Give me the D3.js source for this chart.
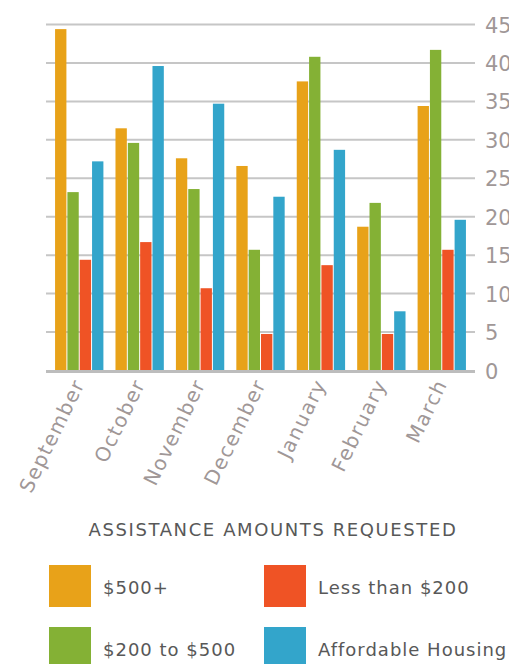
<!DOCTYPE html>
<html><head><meta charset="utf-8">
<script src="https://cdn.jsdelivr.net/npm/d3@7"></script>
<style>body{margin:0;background:#fff;}svg{display:block;}</style>
</head><body>
<script>
const months = ["September","October","November","December","January","February","March"];
const seriesNames = ["$500+","$200 to $500","Less than $200","Affordable Housing"];
const seriesColors = ["#E8A219","#84B135","#EF5325","#33A5CB"];
const over500 = [44.4,31.5,27.6,26.6,37.6,18.7,34.4];
const from200to500 = [23.2,29.6,23.6,15.7,40.8,21.8,41.7];
const under200 = [14.4,16.7,10.7,4.75,13.7,4.75,15.7];
const housing = [27.2,39.6,34.7,22.6,28.7,7.7,19.6];
const yTicks = [0,5,10,15,20,25,30,35,40,45];
const title = "ASSISTANCE AMOUNTS REQUESTED";

const values = [over500, from200to500, under200, housing];
const W = 509, H = 664;
const font = "'DejaVu Sans', sans-serif";
const svg = d3.select("body").append("svg").attr("width", W).attr("height", H);

const x0 = d3.scaleBand().domain(months).range([46, 475]).paddingInner(0.2).paddingOuter(0.15);
const x1 = d3.scaleBand().domain(d3.range(4)).range([0, x0.bandwidth()]).paddingInner(0.08);
const y = d3.scaleLinear().domain([0, 45]).range([370.5, 24.5]);

// gridlines
svg.selectAll("line.grid").data(yTicks.filter(d => d > 0)).join("line")
  .attr("x1", 46).attr("x2", 475).attr("y1", d => y(d)).attr("y2", d => y(d))
  .attr("stroke", "#c6c6c6").attr("stroke-width", 2);

// bars
const g = svg.append("g");
months.forEach((m, i) => {
  values.forEach((arr, s) => {
    g.append("rect")
      .attr("x", x0(m) + x1(s))
      .attr("width", x1.bandwidth())
      .attr("y", y(arr[i]))
      .attr("height", y(0) - y(arr[i]))
      .attr("fill", seriesColors[s]);
  });
});

// baseline
svg.append("line").attr("x1", 46).attr("x2", 475).attr("y1", y(0) + 1).attr("y2", y(0) + 1)
  .attr("stroke", "#bdbdbd").attr("stroke-width", 3);

// y axis labels on right (cut off at the right edge, as in the reference)
const yAxis = d3.axisRight(y).tickValues(yTicks).tickSize(0).tickPadding(0);
const ya = svg.append("g").attr("transform", "translate(485,0)").call(yAxis);
ya.select(".domain").remove();
ya.selectAll("text").attr("font-family", font).attr("font-size", 21).attr("fill", "#a09797")
  .attr("text-anchor", "start").attr("dy", "0.36em");

// x axis labels
const xAxis = d3.axisBottom(x0).tickSize(0).tickPadding(0);
const xa = svg.append("g").attr("transform", `translate(0,${y(0)})`).call(xAxis);
xa.select(".domain").remove();
xa.selectAll("text").attr("font-family", font).attr("font-size", 20).attr("fill", "#a09797")
  .attr("letter-spacing", 1.4)
  .attr("text-anchor", "end").attr("y", 0).attr("dy", 0)
  .attr("transform", "translate(6,13) rotate(-64)");

// title
svg.append("text").attr("x", 273).attr("y", 536).attr("text-anchor", "middle")
  .attr("font-family", font).attr("font-size", 18).attr("letter-spacing", 1.6)
  .attr("fill", "#585858").text(title);

// legend
const legPos = [[49,565],[49,627],[264,565],[264,627]];
seriesNames.forEach((n, i) => {
  const [lx, ly] = legPos[i];
  svg.append("rect").attr("x", lx).attr("y", ly).attr("width", 42).attr("height", 42).attr("fill", seriesColors[i]);
  svg.append("text").attr("x", lx + 54).attr("y", ly + 29).attr("font-family", font)
    .attr("font-size", 18).attr("letter-spacing", 1).attr("fill", "#585858").text(n);
});
</script>
</body></html>
